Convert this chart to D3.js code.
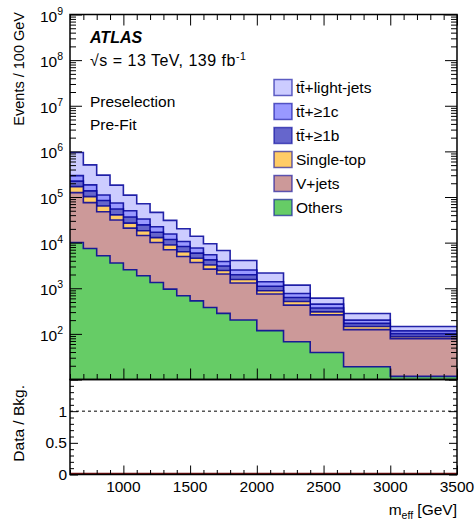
<!DOCTYPE html>
<html>
<head>
<meta charset="utf-8">
<script src="https://cdn.jsdelivr.net/npm/d3@7"></script>
<style>
  body { margin: 0; background: #fff; }
  svg { display: block; font-family: "Liberation Sans", Arial, Helvetica, sans-serif; }
  .frame { fill: none; stroke: #000; stroke-width: 1.5; }
  .tick line { stroke: #000; stroke-width: 1; }
</style>
</head>
<body>
<div id="chart"></div>
<script>
// bin edges in GeV (variable binning at high m_eff)
var binEdges = [600,700,800,900,1000,1100,1200,1300,1400,1500,1600,1700,1800,2000,2200,2400,2650,3000,3500];

// events / 100 GeV per sample
var others    = [10100,7460,5160,3570,2540,1880,1340,958,683,530,378,282,201,118,67,39,19,11.7];
var vjets     = [114500,67700,42500,27700,18200,12500,8700,6020,4300,3140,2250,1770,1100,630,360,222,105,67];
var singleTop = [44000,26800,15900,9300,6000,3800,2800,1920,1330,880,610,390,256,131,85,43,21,8.4];
var ttb       = [54000,34500,20400,14100,9800,6300,4100,2800,1900,1330,950,640,414,225,115,64,25,14];
var ttc       = [71000,47500,27000,19300,13600,8500,5400,3750,2390,1730,1230,790,550,280,140,81,30,15];
var ttlight   = [648000,322000,191000,108000,59900,38400,23700,15250,9600,6190,4040,2870,1530,770,405,159,79,29];

// stacking order, bottom first
var sampleKeys   = ['others','vjets','singleTop','ttb','ttc','ttlight'];
var sampleLabels = ['Others','V+jets','Single-top','tt\u0304+\u22651b','tt\u0304+\u22651c','tt\u0304+light-jets'];
var sampleColors = ['#66cc66','#cc9999','#ffcc66','#6666cc','#9999ff','#ccccff'];

var xTickLabels = [1000,1500,2000,2500,3000,3500];
var ratioTickLabels = [0,0.5,1];

var W = 475, H = 521;
var left = 70, right = 457;
var mainTop = 14.5, mainBottom = 379.5, ratioBottom = 474.5;

var rows = binEdges.slice(0,-1).map(function(e,i){
  return { x0: e, x1: binEdges[i+1], others: others[i], vjets: vjets[i], singleTop: singleTop[i],
           ttb: ttb[i], ttc: ttc[i], ttlight: ttlight[i] };
});
var stacked = d3.stack().keys(sampleKeys)(rows);

var x = d3.scaleLinear().domain([600,3500]).range([left,right]);
var y = d3.scaleLog().domain([10,1e9]).range([mainBottom,mainTop]);
var yr = d3.scaleLinear().domain([0,1.5]).range([ratioBottom,mainBottom]);

var svg = d3.select('#chart').append('svg').attr('width',W).attr('height',H);

svg.append('clipPath').attr('id','clipMain')
  .append('rect').attr('x',left).attr('y',mainTop).attr('width',right-left).attr('height',mainBottom-mainTop);

var plot = svg.append('g').attr('clip-path','url(#clipMain)');

// step outline along the top of a cumulative histogram
function stepPoints(layer){
  var pts = [];
  layer.forEach(function(d){
    pts.push([x(d.data.x0), y(d[1])]);
    pts.push([x(d.data.x1), y(d[1])]);
  });
  return pts;
}
var line = d3.line();

// draw cumulative histograms from the top one down (ROOT style)
for (var k = stacked.length-1; k >= 0; k--) {
  var pts = stepPoints(stacked[k]);
  var fillPts = [[left, mainBottom+2]].concat(pts).concat([[right, mainBottom+2]]);
  plot.append('path')
    .attr('d', line(fillPts) + 'Z')
    .attr('fill', sampleColors[k]);
  plot.append('path')
    .attr('d', line(pts))
    .attr('fill','none')
    .attr('stroke','#000099')
    .attr('stroke-opacity',0.85)
    .attr('stroke-width',1.6);
}

// ratio panel: blinded, ratio drawn at zero + reference line at 1
svg.append('line')
  .attr('x1',left).attr('x2',right).attr('y1',yr(0)-1).attr('y2',yr(0)-1)
  .attr('stroke','#7a1010').attr('stroke-width',1.5);
svg.append('line')
  .attr('x1',left).attr('x2',right).attr('y1',yr(1)).attr('y2',yr(1))
  .attr('stroke','#000').attr('stroke-width',1).attr('stroke-dasharray','3,3');

// ticks helper (inward ticks, no labels)
function addTicks(axisFn, scale, values, size, tx, ty){
  svg.append('g')
    .attr('transform','translate('+tx+','+ty+')')
    .call(axisFn(scale).tickValues(values).tickSize(-size).tickSizeOuter(0).tickFormat(''))
    .call(function(g){ g.select('.domain').remove(); });
}

var xMajor = d3.range(1000,3501,500);
var xMinor = d3.range(600,3501,100).filter(function(v){ return v % 500 !== 0; });

// main panel x ticks (bottom and top)
addTicks(d3.axisBottom, x, xMajor, 11, 0, mainBottom);
addTicks(d3.axisBottom, x, xMinor, 5.5, 0, mainBottom);
addTicks(d3.axisTop, x, xMajor, 11, 0, mainTop);
addTicks(d3.axisTop, x, xMinor, 5.5, 0, mainTop);

// main panel log y ticks
var yMajor = d3.range(1,10).map(function(p){ return Math.pow(10,p); });
var yMinor = [];
for (var p = 1; p < 9; p++) {
  for (var m = 2; m < 10; m++) yMinor.push(m*Math.pow(10,p));
}
addTicks(d3.axisLeft, y, yMajor, 12, left, 0);
addTicks(d3.axisLeft, y, yMinor, 6, left, 0);
addTicks(d3.axisRight, y, yMajor, 12, right, 0);
addTicks(d3.axisRight, y, yMinor, 6, right, 0);

// ratio panel ticks (bottom only on x)
addTicks(d3.axisBottom, x, xMajor, 9, 0, ratioBottom);
addTicks(d3.axisBottom, x, xMinor, 4.5, 0, ratioBottom);
var rMajor = [0,0.5,1,1.5];
var rMinor = d3.range(0,1.5,0.1).filter(function(v,i){ return i % 5 !== 0; });
addTicks(d3.axisLeft, yr, rMajor, 8, left, 0);
addTicks(d3.axisLeft, yr, rMinor, 4, left, 0);
addTicks(d3.axisRight, yr, rMajor, 8, right, 0);
addTicks(d3.axisRight, yr, rMinor, 4, right, 0);

// frames
svg.append('rect').attr('class','frame')
  .attr('x',left).attr('y',mainTop).attr('width',right-left).attr('height',mainBottom-mainTop);
svg.append('rect').attr('class','frame')
  .attr('x',left).attr('y',mainBottom).attr('width',right-left).attr('height',ratioBottom-mainBottom);

var fs = 15.5;

// y labels 10^n
var yl = svg.append('g').selectAll('text')
  .data(d3.range(2,10))
  .enter().append('text')
  .attr('x', 63).attr('y', function(d){ return y(Math.pow(10,d)) + 7; })
  .attr('text-anchor','end')
  .attr('font-size', fs)
  .attr('fill','#000');
yl.append('tspan').text('10');
yl.append('tspan').attr('font-size', 10.5).attr('dy', -7).text(function(d){ return d; });

// x labels
svg.append('g').selectAll('text')
  .data(xTickLabels)
  .enter().append('text')
  .attr('x', function(d){ return x(d); })
  .attr('y', 492)
  .attr('text-anchor','middle')
  .attr('font-size', fs)
  .text(function(d){ return d; });

// ratio labels
svg.append('g').selectAll('text')
  .data(ratioTickLabels)
  .enter().append('text')
  .attr('x', 67)
  .attr('y', function(d){ return yr(d) + 5.5; })
  .attr('text-anchor','end')
  .attr('font-size', fs)
  .text(function(d){ return d; });

// axis titles
svg.append('text')
  .attr('transform','translate(24,12)rotate(-90)')
  .attr('text-anchor','end')
  .attr('font-size', 14.5)
  .text('Events / 100 GeV');
svg.append('text')
  .attr('transform','translate(24,385)rotate(-90)')
  .attr('text-anchor','end')
  .attr('font-size', fs)
  .text('Data / Bkg.');
var xt = svg.append('text')
  .attr('x', right).attr('y', 515)
  .attr('text-anchor','end')
  .attr('font-size', fs);
xt.append('tspan').text('m');
xt.append('tspan').attr('font-size', 10.5).attr('dy', 4).text('eff');
xt.append('tspan').attr('dy', -4).text(' [GeV]');

// ATLAS label block
svg.append('text')
  .attr('x', 90).attr('y', 43)
  .attr('font-size', 16).attr('font-weight','bold').attr('font-style','italic')
  .text('ATLAS');
var lumi = svg.append('text')
  .attr('x', 90).attr('y', 66)
  .attr('font-size', 16)
  .attr('letter-spacing', 0.5);
lumi.append('tspan').text('\u221As = 13 TeV, 139 fb');
lumi.append('tspan').attr('font-size', 10.5).attr('dy', -6).text('-1');
svg.append('text').attr('x', 90).attr('y', 107).attr('font-size', fs).text('Preselection');
svg.append('text').attr('x', 90).attr('y', 130).attr('font-size', fs).text('Pre-Fit');

// legend, top entry first
var legend = svg.append('g').selectAll('g')
  .data(d3.range(sampleKeys.length).reverse())
  .enter().append('g')
  .attr('transform', function(d,i){ return 'translate(274,'+ (79.5 + i*24) +')'; });
legend.append('rect')
  .attr('width', 18).attr('height', 16)
  .attr('fill', function(d){ return sampleColors[d]; })
  .attr('stroke','#000099').attr('stroke-opacity',0.6).attr('stroke-width',1.5);
legend.append('text')
  .attr('x', 22).attr('y', 13.5)
  .attr('font-size', fs)
  .text(function(d){ return sampleLabels[d]; });
</script>
</body>
</html>
